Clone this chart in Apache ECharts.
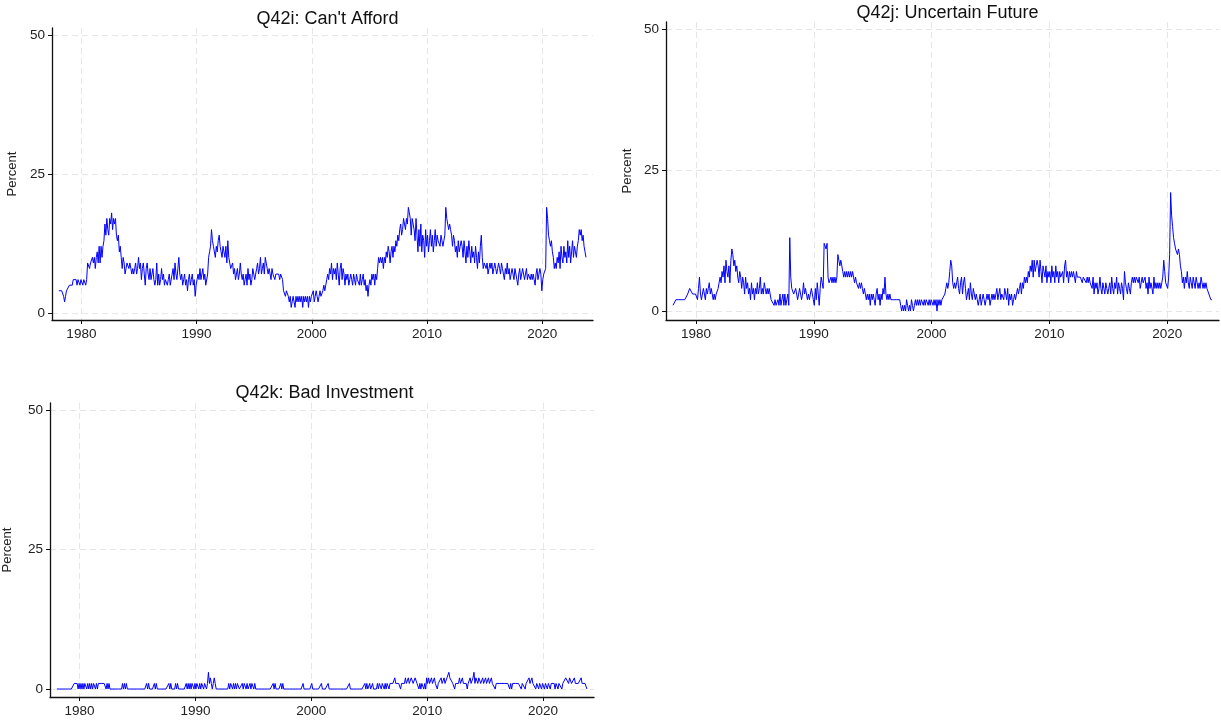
<!DOCTYPE html>
<html>
<head>
<meta charset="utf-8">
<script src="https://cdn.jsdelivr.net/npm/echarts@6/dist/echarts.min.js"></script>
<style>
  html, body { margin: 0; padding: 0; background: #fff; }
  #chart { width: 1221px; height: 725px; }
</style>
</head>
<body>
<div id="chart"></div>
<script>
// monthly survey shares (percent), Jan 1978 - Oct 2023, one row per year
var startYear = 1978;
var yearTicks = [1980, 1990, 2000, 2010, 2020];
var pctTicks = [0, 25, 50];
var titles = ["Q42i: Can't Afford", 'Q42j: Uncertain Future', 'Q42k: Bad Investment'];

var cantAfford = [
	4,4,4,4,4,3,2,3,4,4,4,5,
	5,5,5,6,6,6,6,5,6,6,5,6,
	6,5,6,6,5,6,9,9,8,9,9,10,
	9,10,8,10,11,9,12,9,12,10,12,13,
	16,14,17,15,14,17,16,18,15,17,16,17,
	14,13,14,11,12,10,8,10,9,7,8,9,
	9,8,9,8,7,8,7,8,9,7,8,10,
	8,9,6,8,9,7,5,8,9,7,6,8,
	6,7,8,6,5,6,9,5,7,5,6,8,
	6,7,5,6,6,5,6,7,5,5,7,8,
	6,9,7,6,8,10,7,6,7,5,6,7,
	5,6,4,6,7,5,6,7,5,6,3,5,
	6,7,6,8,6,7,8,6,7,5,5,7,
	10,11,12,15,13,12,11,10,12,11,13,14,
	12,11,10,12,11,10,12,9,13,10,9,8,
	8,9,7,8,6,7,8,6,7,9,7,6,
	7,5,6,7,5,8,6,7,5,6,8,7,
	6,7,8,9,7,8,10,7,8,9,7,10,
	9,8,7,8,7,6,8,7,7,6,7,7,
	7,7,6,7,7,6,4,4,3,4,4,3,
	2,3,1,2,3,2,1,3,2,3,2,3,
	2,3,1,3,2,3,2,3,1,3,2,3,
	3,4,2,3,4,3,2,3,4,3,3,4,
	5,4,5,6,7,6,8,7,9,6,8,7,
	8,6,9,7,5,8,9,6,8,7,5,7,
	6,7,5,6,7,6,5,7,6,5,7,6,
	6,5,7,5,6,7,5,6,4,5,3,5,
	6,5,7,6,7,5,7,6,8,10,9,10,
	9,10,8,10,9,11,10,12,11,9,11,12,
	10,12,11,13,12,14,13,15,16,14,15,17,
	16,15,17,16,19,18,17,14,17,16,15,13,
	17,14,11,15,12,16,11,14,13,10,15,12,
	14,11,13,15,12,14,11,13,15,12,14,13,
	13,12,14,13,12,13,14,19,17,16,15,16,
	15,14,12,14,13,11,12,10,13,11,12,13,
	12,10,13,11,9,12,10,13,11,9,12,10,
	11,9,12,10,8,11,9,12,14,10,8,9,
	9,8,9,7,8,9,8,9,7,8,9,8,
	7,8,9,8,7,9,8,7,6,8,7,9,
	7,8,6,7,8,7,6,8,7,6,5,7,
	8,6,7,8,7,6,7,8,6,7,7,6,
	7,6,7,6,5,7,8,6,7,8,7,4,
	6,7,7,8,19,17,14,13,12,13,11,10,
	8,9,8,10,9,11,8,12,10,9,12,10,
	11,9,13,10,12,9,11,13,10,12,11,10,
	12,13,15,14,15,13,14,12,11,10
];

var uncertainFuture = [
	1,1,1,2,2,2,2,2,2,2,2,2,
	2,2,2,3,3,4,4,4,3,3,3,3,
	3,2,4,6,3,2,3,4,3,2,4,3,
	4,5,3,4,3,2,3,2,3,3,4,5,
	6,5,7,6,8,5,9,7,6,8,5,9,
	11,10,8,9,7,8,6,5,7,6,4,6,
	5,3,6,4,5,3,4,2,5,3,4,2,
	4,3,5,3,4,6,3,4,3,5,4,3,
	4,3,4,3,2,2,2,1,2,1,1,2,
	1,3,1,2,3,1,3,1,2,3,1,13,
	6,4,4,3,3,4,3,2,3,4,3,2,
	3,5,3,4,3,2,3,2,3,4,3,2,
	1,4,2,5,3,1,4,6,5,4,12,12,
	11,12,6,5,5,6,5,6,5,6,5,6,
	10,9,8,9,8,7,6,7,6,7,6,7,
	6,7,6,7,6,5,6,5,5,4,5,4,
	5,4,3,4,3,2,3,2,3,1,3,2,
	3,2,1,3,4,2,3,1,3,2,4,3,
	6,3,2,3,2,3,2,2,2,2,2,2,
	2,2,2,2,1,0,1,0,1,0,2,1,
	0,1,0,2,1,0,1,2,1,2,1,2,
	1,2,2,1,2,1,2,2,1,2,1,2,
	2,1,2,1,2,0,2,1,2,1,2,2,
	2,3,4,5,4,5,7,9,8,5,4,5,
	4,5,6,4,3,5,6,3,5,6,4,2,
	3,4,2,5,3,2,4,3,2,3,2,1,
	2,3,1,2,3,2,1,2,3,2,3,1,
	2,3,2,3,2,3,4,2,3,4,2,3,
	3,2,4,3,2,4,1,3,2,3,1,2,
	3,2,3,4,3,4,5,3,5,4,6,5,
	6,5,7,6,8,7,9,6,9,7,8,9,
	8,6,9,7,5,8,7,6,8,5,7,6,
	7,5,8,6,7,5,8,6,7,5,7,6,
	6,7,5,8,9,6,7,5,7,6,7,6,
	7,6,5,7,6,6,6,6,6,5,6,6,
	6,5,6,5,6,5,5,4,6,3,5,4,
	5,3,4,6,4,3,5,4,3,5,4,3,
	4,5,3,6,4,3,5,4,6,3,5,4,
	3,5,4,2,7,5,4,3,5,4,3,5,
	6,5,6,5,6,6,5,6,4,5,6,5,
	5,6,4,5,3,6,4,5,4,3,6,4,
	5,4,5,4,5,4,5,6,9,7,5,5,
	4,6,10,21,17,15,13,12,11,11,10,11,
	10,8,7,5,6,4,6,5,7,5,4,6,
	5,4,6,5,4,6,5,4,5,4,6,5,
	4,5,4,5,4,4,3,3,2,2
];

var badInvestment = [
	0,0,0,0,0,0,0,0,0,0,0,0,
	0,0,0,0,0,0,1,1,1,1,0,1,
	0,1,0,1,0,1,1,0,1,0,1,0,
	1,0,1,1,0,1,0,1,1,1,1,1,
	1,1,1,0,1,0,1,0,0,0,0,0,
	0,0,0,0,0,0,0,0,1,0,1,0,
	1,0,0,0,0,0,0,0,0,0,0,0,
	0,0,0,0,0,0,0,0,0,1,0,1,
	0,0,0,0,0,1,0,1,0,0,0,0,
	0,0,0,0,0,0,0,0,1,0,1,0,
	0,0,0,1,0,1,0,0,0,0,0,0,
	0,0,1,0,1,0,1,0,1,1,0,1,
	0,1,1,0,1,0,1,1,0,1,1,0,
	1,3,1,2,1,0,1,2,1,0,0,0,
	0,0,0,0,0,0,0,0,0,0,1,0,
	1,1,0,1,0,1,0,1,1,0,0,0,
	1,0,1,1,0,1,0,0,1,0,1,1,
	0,1,0,0,0,0,0,0,0,0,0,0,
	0,0,0,0,0,0,0,0,1,0,1,0,
	0,0,0,0,1,0,1,0,0,0,0,0,
	0,0,0,0,0,0,0,0,0,0,0,0,
	0,0,0,1,0,0,0,0,0,0,0,0,
	1,0,0,0,0,0,0,0,0,0,1,0,
	0,0,0,0,0,1,0,0,0,0,0,0,
	0,0,0,0,0,0,0,0,0,0,0,0,
	0,0,0,1,0,0,0,0,0,0,0,0,
	0,0,0,0,0,0,0,1,0,1,0,0,
	1,0,0,1,0,0,0,0,1,0,1,1,
	0,1,1,0,1,0,1,1,0,1,1,1,
	1,1,2,1,1,1,1,1,0,1,1,1,
	1,2,1,1,2,1,1,2,2,1,1,2,
	2,1,1,0,1,0,1,1,0,1,0,2,
	1,2,1,1,2,1,1,2,1,1,0,1,
	1,1,2,1,1,2,1,1,2,2,3,2,
	2,2,1,1,0,1,1,1,1,2,1,1,
	2,1,1,1,1,0,1,1,2,1,1,2,
	3,1,2,2,1,2,2,1,1,2,1,1,
	2,1,1,2,1,1,2,1,1,1,0,1,
	1,1,1,1,1,1,1,1,1,1,1,1,
	1,0,1,0,1,1,1,1,1,1,1,1,
	1,0,1,1,1,0,1,1,1,2,1,1,
	2,1,1,1,0,1,1,0,1,1,0,1,
	1,0,1,1,0,1,1,0,1,1,1,1,
	0,1,1,0,1,1,1,0,1,1,1,2,
	2,2,1,2,2,1,1,1,2,1,1,1,
	1,1,1,2,1,1,1,1,1,0
];

function toPairs(vals) {
	var out = [];
	for (let i = 0; i < vals.length; i++) {
		out.push([startYear + (i + 0.5) / 12, vals[i]]);
	}
	return out;
}

var chartDom = document.getElementById('chart');
var myChart = echarts.init(chartDom, null, { renderer: 'canvas' });
var option;

var font = 'Arial, "Liberation Sans", Helvetica, sans-serif';
var gridLine = { show: true, lineStyle: { color: '#e6e6e6', type: [6, 4], width: 1 } };

// pixel boxes of the three panels
var grids = [
	{ left: 52, right: 628, top: 28, bottom: 405 },
	{ left: 666, right: 2, top: 22, bottom: 405 },
	{ left: 45, right: 627, top: 403, bottom: 28 }
];
var yRanges = [[-1.26, 51.26], [-1.6, 51.24], [-1.43, 51.25]];
var nameGaps = [33, 32, 36];
var series_data = [cantAfford, uncertainFuture, badInvestment];

var xAxes = [], yAxes = [], series = [], title = [];
for (let k = 0; k < 3; k++) {
	title.push({
		text: titles[k],
		left: grids[k].left + (1221 - grids[k].left - grids[k].right) / 2,
		top: [5, -1, 379][k],
		textAlign: 'center',
		textStyle: { fontFamily: font, fontSize: 18, fontWeight: 'normal', color: '#111' }
	});
	xAxes.push({
		gridIndex: k,
		type: 'value',
		min: 1977.45,
		max: 2024.4,
		axisLine: { show: true, onZero: false, lineStyle: { color: '#111', width: 1.3 } },
		axisTick: { show: true, length: 4, inside: false, customValues: yearTicks, lineStyle: { color: '#111' } },
		axisLabel: {
			customValues: yearTicks,
			formatter: function (v) { return String(v); },
			margin: 7, fontFamily: font, fontSize: 13.5, color: '#222'
		},
		splitLine: gridLine
	});
	yAxes.push({
		gridIndex: k,
		type: 'value',
		min: yRanges[k][0],
		max: yRanges[k][1],
		name: 'Percent',
		nameLocation: 'middle',
		nameGap: nameGaps[k],
		nameTextStyle: { fontFamily: font, fontSize: 13, color: '#222' },
		axisLine: { show: true, onZero: false, lineStyle: { color: '#111', width: 1.3 } },
		axisTick: { show: true, length: 4, customValues: pctTicks, lineStyle: { color: '#111' } },
		axisLabel: {
			customValues: pctTicks,
			formatter: function (v) { return String(v); },
			margin: 7, fontFamily: font, fontSize: 13.5, color: '#222'
		},
		splitLine: gridLine
	});
	series.push({
		type: 'line',
		xAxisIndex: k,
		yAxisIndex: k,
		data: toPairs(series_data[k]),
		showSymbol: false,
		lineStyle: { color: '#0000ff', width: 1 },
		animation: false
	});
}

option = {
	backgroundColor: '#ffffff',
	animation: false,
	title: title,
	grid: grids,
	xAxis: xAxes,
	yAxis: yAxes,
	series: series
};

option && myChart.setOption(option);
</script>
</body>
</html>
